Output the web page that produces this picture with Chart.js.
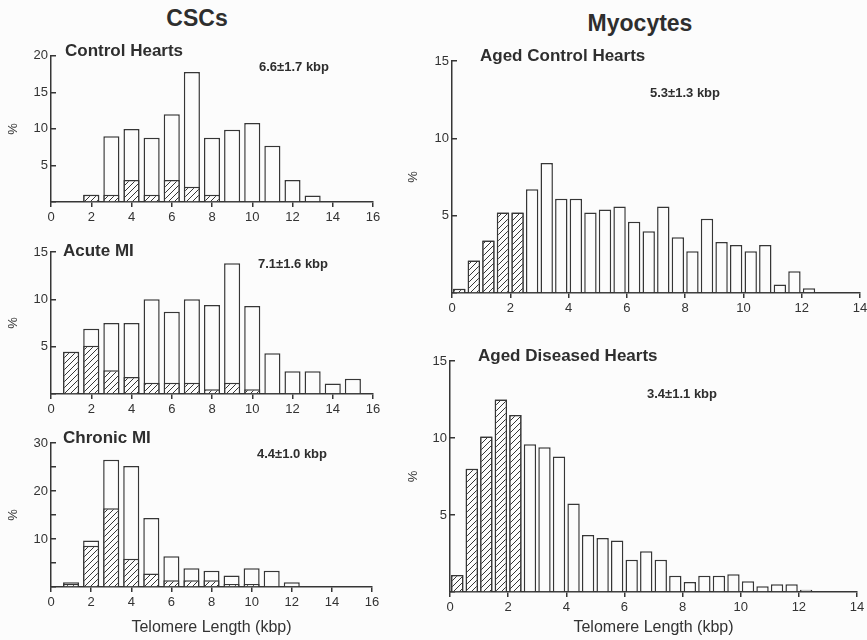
<!DOCTYPE html>
<html>
<head>
<meta charset="utf-8">
<script src="https://cdn.jsdelivr.net/npm/chart.js@4.4.1/dist/chart.umd.min.js"></script>
<style>
  html, body { margin: 0; padding: 0; background: #fcfcfc; overflow: hidden; }
  body { width: 867px; height: 640px; position: relative; font-family: "Liberation Sans", Arial, sans-serif; color: #2e2e2e; }
  canvas { position: absolute; }
  .head { position: absolute; font-weight: bold; font-size: 23px; transform: translate(-50%, -50%); white-space: nowrap; }
</style>
</head>
<body>
<div class="head" style="left:197px; top:18px">CSCs</div>
<div class="head" style="left:640px; top:23px">Myocytes</div>
<canvas id="cscControl" style="left:0; top:40px" width="390" height="185"></canvas>
<canvas id="cscAcute" style="left:0; top:236px" width="390" height="181"></canvas>
<canvas id="cscChronic" style="left:0; top:425px" width="390" height="215"></canvas>
<canvas id="myoControl" style="left:400px; top:45px" width="480" height="271"></canvas>
<canvas id="myoDiseased" style="left:400px; top:345px" width="477" height="295"></canvas>
<script>
// CSCs, 1 kbp bins (% of cells), hatched = short telomere part
const cscControlBins = [2, 3, 4, 5, 6, 7, 8, 9, 10, 11, 12, 13];
const cscControlTotal = [1, 9, 10, 8.8, 12, 17.8, 8.8, 9.9, 10.8, 7.7, 3, 0.9];
const cscControlHatched = [1, 1, 3, 1, 3, 2.1, 1, 0, 0, 0, 0, 0];

const cscAcuteBins = [1, 2, 3, 4, 5, 6, 7, 8, 9, 10, 11, 12, 13, 14, 15];
const cscAcuteTotal = [4.45, 6.9, 7.5, 7.5, 10, 8.7, 10, 9.4, 13.8, 9.3, 4.3, 2.4, 2.4, 1.1, 1.6];
const cscAcuteHatched = [4.45, 5.1, 2.5, 1.8, 1.2, 1.2, 1.2, 0.5, 1.2, 0.5, 0, 0, 0, 0, 0];

const cscChronicBins = [1, 2, 3, 4, 5, 6, 7, 8, 9, 10, 11, 12];
const cscChronicTotal = [1, 9.7, 26.5, 25.2, 14.4, 6.4, 3.9, 3.4, 2.4, 3.9, 3.4, 1];
const cscChronicHatched = [0.6, 8.6, 16.4, 5.9, 2.8, 1.4, 1.4, 1.4, 0.6, 0.6, 0, 0];

// myocytes, 0.5 kbp bins
const myoBins = [0.25, 0.75, 1.25, 1.75, 2.25, 2.75, 3.25, 3.75, 4.25, 4.75, 5.25, 5.75, 6.25,
    6.75, 7.25, 7.75, 8.25, 8.75, 9.25, 9.75, 10.25, 10.75, 11.25, 11.75, 12.25];
const myoControlTotal = [0.28, 2.1, 3.4, 5.2, 5.2, 6.7, 8.4, 6.1, 6.1, 5.2, 5.4, 5.6, 4.6,
    4.0, 5.6, 3.6, 2.7, 4.8, 3.3, 3.1, 2.7, 3.1, 0.55, 1.4, 0.3];
const myoControlHatched = [0.28, 2.1, 3.4, 5.2, 5.2, 0, 0, 0, 0, 0, 0, 0, 0,
    0, 0, 0, 0, 0, 0, 0, 0, 0, 0, 0, 0];
const myoDiseasedTotal = [1.1, 8.0, 10.1, 12.5, 11.5, 9.6, 9.4, 8.8, 5.75, 3.7, 3.5, 3.35, 2.1,
    2.65, 2.1, 1.05, 0.65, 1.05, 1.05, 1.15, 0.7, 0.37, 0.5, 0.5, 0.15];
const myoDiseasedHatched = [1.1, 8.0, 10.1, 12.5, 11.5, 0, 0, 0, 0, 0, 0, 0, 0,
    0, 0, 0, 0, 0, 0, 0, 0, 0, 0, 0, 0];

const ink = "#363636";
const paper = "#fcfcfc";
const fontFamily = "'Liberation Sans', Arial, sans-serif";

function makeHatch() {
    const c = document.createElement("canvas");
    c.width = 6;
    c.height = 6;
    const g = c.getContext("2d");
    g.fillStyle = paper;
    g.fillRect(0, 0, 6, 6);
    g.strokeStyle = ink;
    g.lineWidth = 1;
    g.beginPath();
    g.moveTo(0, 6); g.lineTo(6, 0);
    g.moveTo(-1, 1); g.lineTo(1, -1);
    g.moveTo(5, 7); g.lineTo(7, 5);
    g.stroke();
    return g.createPattern(c, "repeat");
}
const hatch = makeHatch();

const panelText = {
    id: "panelText",
    afterDraw(chart, args, opts) {
        const { ctx, chartArea } = chart;
        ctx.save();
        ctx.fillStyle = "#2e2e2e";
        ctx.textBaseline = "middle";
        ctx.font = "bold 17px " + fontFamily;
        ctx.fillText(opts.title, chartArea.left + opts.titleX, chartArea.top + opts.titleY);
        ctx.font = "bold 13px " + fontFamily;
        ctx.fillText(opts.note, chartArea.left + opts.noteX, chartArea.top + opts.noteY);
        ctx.restore();
    },
};

function toPoints(bins, values) {
    return bins.map((x, i) => ({ x, y: values[i] })).filter((p) => p.y > 0);
}

function drawPanel(id, p) {
    const barOpts = {
        grouped: false,
        categoryPercentage: 1,
        barPercentage: p.barRatio,
        borderColor: ink,
        borderWidth: 1.5,
    };
    return new Chart(document.getElementById(id), {
        type: "bar",
        data: {
            datasets: [
                { ...barOpts, data: toPoints(p.bins, p.hatched), backgroundColor: hatch },
                { ...barOpts, data: toPoints(p.bins, p.total), backgroundColor: paper },
            ],
        },
        options: {
            responsive: false,
            animation: false,
            layout: { padding: { top: p.padTop, right: p.padRight, left: 0, bottom: 0 } },
            plugins: {
                legend: { display: false },
                tooltip: { enabled: false },
                panelText: p.text,
            },
            scales: {
                x: {
                    type: "linear",
                    offset: false,
                    min: 0,
                    max: p.xMax,
                    afterFit: (s) => { s.height = p.xHeight; },
                    grid: { offset: false, drawOnChartArea: false, tickLength: 5, color: ink, lineWidth: 1.5 },
                    border: { color: ink, width: 1.5 },
                    ticks: { stepSize: 2, padding: 3, color: "#333", font: { family: fontFamily, size: 13 } },
                    title: {
                        display: !!p.xTitle,
                        text: p.xTitle || "",
                        color: "#333",
                        font: { family: fontFamily, size: 16 },
                        padding: { top: 0, bottom: 3 },
                    },
                },
                y: {
                    min: 0,
                    max: p.yMax,
                    afterFit: (s) => { s.width = p.yWidth; },
                    grid: { drawOnChartArea: false, tickLength: -5, color: ink, lineWidth: 1.5 },
                    border: { color: ink, width: 1.5 },
                    ticks: {
                        stepSize: 5,
                        padding: 8,
                        color: "#333",
                        font: { family: fontFamily, size: 13 },
                        callback: (v) => (v === 0 || v % p.yLabelStep !== 0 ? "" : v),
                    },
                    title: {
                        display: true,
                        text: "%",
                        color: "#333",
                        font: { family: fontFamily, size: 13 },
                        padding: { top: 6, bottom: 0 },
                    },
                },
            },
        },
        plugins: [panelText],
    });
}

drawPanel("cscControl", {
    bins: cscControlBins, total: cscControlTotal, hatched: cscControlHatched,
    xMax: 16, yMax: 20, yLabelStep: 5, barRatio: 0.8,
    padTop: 15, padRight: 17, yWidth: 51, xHeight: 23,
    text: { title: "Control Hearts", titleX: 14, titleY: -4, note: "6.6±1.7 kbp", noteX: 208, noteY: 12 },
});
drawPanel("cscAcute", {
    bins: cscAcuteBins, total: cscAcuteTotal, hatched: cscAcuteHatched,
    xMax: 16, yMax: 15, yLabelStep: 5, barRatio: 0.8,
    padTop: 16, padRight: 17, yWidth: 51, xHeight: 23,
    text: { title: "Acute MI", titleX: 12, titleY: -1, note: "7.1±1.6 kbp", noteX: 207, noteY: 12 },
});
drawPanel("cscChronic", {
    bins: cscChronicBins, total: cscChronicTotal, hatched: cscChronicHatched,
    xMax: 16, yMax: 30, yLabelStep: 10, barRatio: 0.8,
    padTop: 18, padRight: 18, yWidth: 51, xHeight: 53, xTitle: "Telomere Length (kbp)",
    text: { title: "Chronic MI", titleX: 12, titleY: -5, note: "4.4±1.0 kbp", noteX: 206, noteY: 11 },
});
drawPanel("myoControl", {
    bins: myoBins, total: myoControlTotal, hatched: myoControlHatched,
    xMax: 14, yMax: 15, yLabelStep: 5, barRatio: 0.85,
    padTop: 16, padRight: 20, yWidth: 52, xHeight: 23,
    text: { title: "Aged Control Hearts", titleX: 28, titleY: -5, note: "5.3±1.3 kbp", noteX: 198, noteY: 32 },
});
drawPanel("myoDiseased", {
    bins: myoBins, total: myoDiseasedTotal, hatched: myoDiseasedHatched,
    xMax: 14, yMax: 15, yLabelStep: 5, barRatio: 0.85,
    padTop: 16, padRight: 20, yWidth: 50, xHeight: 48, xTitle: "Telomere Length (kbp)",
    text: { title: "Aged Diseased Hearts", titleX: 28, titleY: -5, note: "3.4±1.1 kbp", noteX: 197, noteY: 33 },
});
</script>
</body>
</html>
